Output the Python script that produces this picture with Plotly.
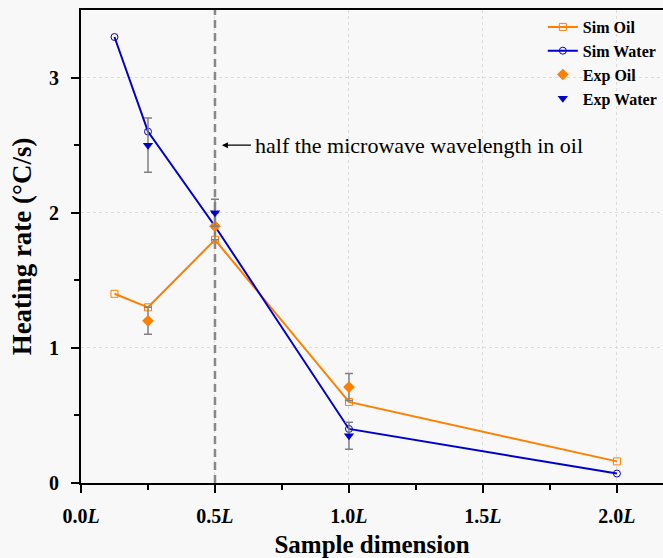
import plotly.graph_objects as go

x_sim = [0.125, 0.25, 0.5, 1.0, 2.0]
sim_oil = [1.40, 1.30, 1.80, 0.60, 0.16]
sim_water = [3.30, 2.60, 1.90, 0.40, 0.07]

x_exp = [0.25, 0.5, 1.0]
exp_oil = [1.20, 1.90, 0.71]
exp_oil_err = [0.10, 0.10, 0.10]
exp_water = [2.50, 2.00, 0.35]
exp_water_err = [0.20, 0.10, 0.10]

x_ticks = [0, 0.5, 1.0, 1.5, 2.0]
x_ticktext = ["0.0<i>L</i>", "0.5<i>L</i>", "1.0<i>L</i>", "1.5<i>L</i>", "2.0<i>L</i>"]

ORANGE = "#FF8000"
BLUE = "#0000CC"
FONT = "Liberation Serif"
BG = "#f8f8f8"

fig = go.Figure()
fig.add_trace(go.Scatter(x=x_sim, y=sim_oil, mode="lines+markers", name="Sim Oil",
                         line=dict(color=ORANGE, width=2),
                         marker=dict(symbol="square-open", size=7, color=ORANGE, line=dict(width=1))))
fig.add_trace(go.Scatter(x=x_sim, y=sim_water, mode="lines+markers", name="Sim Water",
                         line=dict(color=BLUE, width=2),
                         marker=dict(symbol="circle-open", size=7, color=BLUE, line=dict(width=1))))
fig.add_trace(go.Scatter(x=x_exp, y=exp_oil, mode="markers", name="Exp Oil",
                         marker=dict(symbol="diamond", size=9, color=ORANGE),
                         error_y=dict(type="data", array=exp_oil_err, color="#808080", thickness=1.5, width=4)))
fig.add_trace(go.Scatter(x=x_exp, y=exp_water, mode="markers", name="Exp Water",
                         marker=dict(symbol="triangle-down", size=9, color=BLUE),
                         error_y=dict(type="data", array=exp_water_err, color="#808080", thickness=1.5, width=4)))

fig.add_shape(type="line", x0=0.5, x1=0.5, y0=0, y1=3.5, xref="x", yref="y",
              line=dict(color="#888888", width=2.5, dash="8px,5px"), layer="between")

fig.add_annotation(x=0.526, y=2.5, ax=0.64, ay=2.5, axref="x", ayref="y", xref="x", yref="y",
                   text="", showarrow=True, arrowhead=2, arrowsize=1, arrowwidth=1.2, arrowcolor="#000")
fig.add_annotation(x=0.643, y=2.5, xref="x", yref="y", text="half the microwave wavelength in oil",
                   showarrow=False, xanchor="left", yanchor="middle",
                   font=dict(family=FONT, size=22, color="#000"))

fig.update_layout(
    width=663, height=558,
    margin=dict(l=81, r=0, t=10, b=75),
    paper_bgcolor=BG, plot_bgcolor=BG,
    font=dict(family=FONT, color="#000"),
    legend=dict(x=0.998, y=1.0, xanchor="right", yanchor="top", bgcolor="rgba(0,0,0,0)",
                font=dict(family=FONT, size=16, color="#000", weight="bold"),
                tracegroupgap=0, itemwidth=30),
    showlegend=True,
)
fig.update_xaxes(range=[0, 2.172], tickvals=x_ticks, ticktext=x_ticktext,
                 ticks="outside", ticklen=8, tickwidth=1.5, tickcolor="#000",
                 ticklabelstandoff=6,
                 showline=True, linecolor="#000", linewidth=2, mirror=True,
                 showgrid=True, gridcolor="#dcdcdc", griddash="dot", gridwidth=1,
                 zeroline=False,
                 minor=dict(tickvals=[0.25, 0.75, 1.25, 1.75], ticks="outside", ticklen=5,
                            tickwidth=1.5, tickcolor="#000", showgrid=False),
                 tickfont=dict(family=FONT, size=20, weight="bold"),
                 title=dict(text="Sample dimension", font=dict(family=FONT, size=25, weight="bold"), standoff=10))
fig.update_yaxes(range=[0, 3.5], tickvals=[0, 1, 2, 3],
                 ticks="outside", ticklen=8, tickwidth=1.5, tickcolor="#000",
                 ticklabelstandoff=8,
                 showline=True, linecolor="#000", linewidth=2,
                 showgrid=True, gridcolor="#dcdcdc", griddash="dot", gridwidth=1,
                 zeroline=False,
                 minor=dict(tickvals=[0.5, 1.5, 2.5], ticks="outside", ticklen=5,
                            tickwidth=1.5, tickcolor="#000", showgrid=False),
                 tickfont=dict(family=FONT, size=20, weight="bold"),
                 title=dict(text="Heating rate (°C/s)", font=dict(family=FONT, size=27, weight="bold"), standoff=10))

fig.write_html("out.html")
